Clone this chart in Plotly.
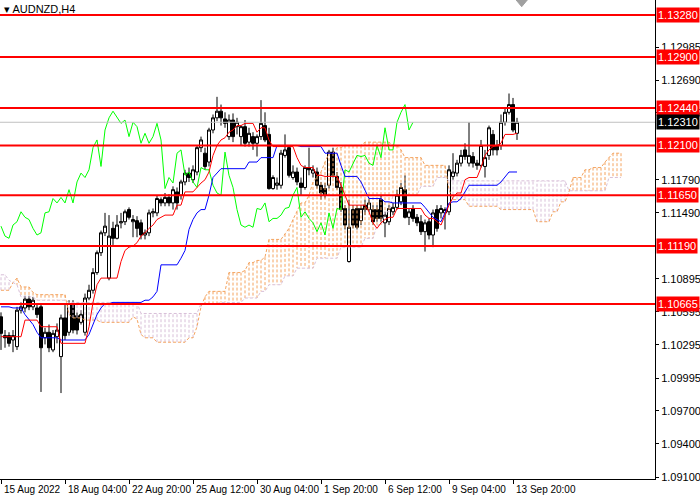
import plotly.graph_objects as go

# =========================================
# AUDNZD H4 candles (bar index 0 .. 129)
# =========================================
bar_open = [
    1.1055, 1.1038, 1.1038, 1.1034, 1.1028, 1.1061, 1.1063, 1.1071, 1.1064, 1.1063,
    1.1064, 1.1036, 1.1041, 1.1025, 1.1037, 1.1019, 1.1054, 1.1041, 1.1066, 1.1056,
    1.1050, 1.1041, 1.1072, 1.1079, 1.1095, 1.1113, 1.1131, 1.1090, 1.1135, 1.1126,
    1.1140, 1.1141, 1.1152, 1.1141, 1.1142, 1.1140, 1.1129, 1.1131, 1.1149, 1.1149,
    1.1161, 1.1158, 1.1163, 1.1158, 1.1168, 1.1165, 1.1177, 1.1185, 1.1179, 1.1186,
    1.1208, 1.1203, 1.1195, 1.1224, 1.1235, 1.1241, 1.1234, 1.1218, 1.1233, 1.1227,
    1.1218, 1.1227, 1.1213, 1.1218, 1.1212, 1.1218, 1.1228, 1.1220, 1.1171, 1.1174,
    1.1174, 1.1201, 1.1208, 1.1181, 1.1186, 1.1176, 1.1172, 1.1190, 1.1185, 1.1186,
    1.1174, 1.1171, 1.1174, 1.1204, 1.1182, 1.1172, 1.1153, 1.1105, 1.1152, 1.1153,
    1.1142, 1.1156, 1.1152, 1.1152, 1.1152, 1.1161, 1.1140, 1.1141, 1.1150, 1.1154,
    1.1159, 1.1170, 1.1145, 1.1153, 1.1145, 1.1141, 1.1132, 1.1141, 1.1129, 1.1152,
    1.1149, 1.1149, 1.1150, 1.1182, 1.1185, 1.1194, 1.1206, 1.1194, 1.1200, 1.1194,
    1.1192, 1.1191, 1.1201, 1.1220, 1.1210, 1.1210, 1.1231, 1.1240, 1.1247, 1.1221,
]
bar_high = [
    1.1059, 1.1043, 1.1041, 1.1043, 1.1064, 1.1068, 1.1074, 1.1074, 1.1073, 1.1067,
    1.1067, 1.1045, 1.1048, 1.1043, 1.1049, 1.1057, 1.1066, 1.1070, 1.1070, 1.1059,
    1.1061, 1.1076, 1.1084, 1.1099, 1.1115, 1.1133, 1.1149, 1.1147, 1.1141, 1.1147,
    1.1149, 1.1152, 1.1154, 1.1147, 1.1146, 1.1143, 1.1134, 1.1152, 1.1153, 1.1165,
    1.1163, 1.1167, 1.1166, 1.1173, 1.1172, 1.1179, 1.1188, 1.1190, 1.1192, 1.1210,
    1.1218, 1.1208, 1.1226, 1.1238, 1.1254, 1.1247, 1.1240, 1.1238, 1.1239, 1.1235,
    1.1228, 1.1233, 1.1226, 1.1222, 1.1220, 1.1251, 1.1240, 1.1226, 1.1183, 1.1181,
    1.1206, 1.1220, 1.1210, 1.1192, 1.1190, 1.1181, 1.1192, 1.1208, 1.1192, 1.1190,
    1.1177, 1.1176, 1.1206, 1.1208, 1.1186, 1.1177, 1.1156, 1.1161, 1.1156, 1.1156,
    1.1156, 1.1161, 1.1162, 1.1156, 1.1156, 1.1165, 1.1150, 1.1156, 1.1158, 1.1170,
    1.1176, 1.1183, 1.1153, 1.1156, 1.1148, 1.1147, 1.1143, 1.1144, 1.1152, 1.1156,
    1.1156, 1.1154, 1.1192, 1.1203, 1.1197, 1.1206, 1.1212, 1.1231, 1.1204, 1.1197,
    1.1215, 1.1206, 1.1228, 1.1224, 1.1215, 1.1238, 1.1244, 1.1257, 1.1253, 1.1235,
]
bar_low = [
    1.1025, 1.1027, 1.1028, 1.1023, 1.1025, 1.1058, 1.1059, 1.1061, 1.1061, 1.1054,
    1.0987, 1.1030, 1.1023, 1.1023, 1.1031, 1.0986, 1.1034, 1.1038, 1.1040, 1.1039,
    1.1048, 1.1038, 1.1070, 1.1076, 1.1093, 1.1110, 1.1128, 1.1088, 1.1120, 1.1125,
    1.1135, 1.1138, 1.1143, 1.1127, 1.1127, 1.1125, 1.1125, 1.1128, 1.1145, 1.1146,
    1.1155, 1.1155, 1.1155, 1.1152, 1.1152, 1.1161, 1.1174, 1.1177, 1.1176, 1.1183,
    1.1204, 1.1188, 1.1191, 1.1221, 1.1232, 1.1228, 1.1226, 1.1215, 1.1213, 1.1220,
    1.1210, 1.1209, 1.1209, 1.1206, 1.1200, 1.1215, 1.1213, 1.1170, 1.1170, 1.1170,
    1.1171, 1.1199, 1.1181, 1.1179, 1.1174, 1.1165, 1.1170, 1.1183, 1.1181, 1.1171,
    1.1161, 1.1162, 1.1171, 1.1181, 1.1170, 1.1150, 1.1134, 1.1104, 1.1135, 1.1134,
    1.1138, 1.1147, 1.1150, 1.1138, 1.1141, 1.1141, 1.1127, 1.1138, 1.1147, 1.1152,
    1.1156, 1.1144, 1.1138, 1.1141, 1.1137, 1.1129, 1.1114, 1.1125, 1.1118, 1.1132,
    1.1144, 1.1134, 1.1147, 1.1179, 1.1182, 1.1191, 1.1197, 1.1191, 1.1190, 1.1188,
    1.1190, 1.1181, 1.1197, 1.1201, 1.1201, 1.1206, 1.1228, 1.1238, 1.1222, 1.1215,
]
bar_close = [
    1.1040, 1.1036, 1.1031, 1.1038, 1.1061, 1.1064, 1.1071, 1.1064, 1.1070, 1.1057,
    1.1027, 1.1041, 1.1027, 1.1040, 1.1043, 1.1054, 1.1038, 1.1067, 1.1043, 1.1043,
    1.1057, 1.1072, 1.1079, 1.1095, 1.1113, 1.1131, 1.1137, 1.1128, 1.1126, 1.1138,
    1.1141, 1.1150, 1.1145, 1.1143, 1.1135, 1.1129, 1.1131, 1.1149, 1.1150, 1.1162,
    1.1158, 1.1163, 1.1158, 1.1170, 1.1158, 1.1177, 1.1185, 1.1181, 1.1188, 1.1208,
    1.1215, 1.1191, 1.1224, 1.1235, 1.1241, 1.1235, 1.1230, 1.1233, 1.1218, 1.1231,
    1.1227, 1.1212, 1.1221, 1.1212, 1.1218, 1.1230, 1.1215, 1.1171, 1.1181, 1.1176,
    1.1203, 1.1206, 1.1183, 1.1186, 1.1177, 1.1172, 1.1190, 1.1188, 1.1188, 1.1174,
    1.1167, 1.1165, 1.1204, 1.1183, 1.1172, 1.1152, 1.1138, 1.1136, 1.1138, 1.1136,
    1.1153, 1.1152, 1.1158, 1.1141, 1.1144, 1.1144, 1.1147, 1.1153, 1.1154, 1.1165,
    1.1172, 1.1145, 1.1150, 1.1144, 1.1140, 1.1132, 1.1140, 1.1129, 1.1149, 1.1135,
    1.1153, 1.1152, 1.1188, 1.1186, 1.1194, 1.1201, 1.1200, 1.1201, 1.1194, 1.1192,
    1.1210, 1.1199, 1.1226, 1.1206, 1.1206, 1.1231, 1.1240, 1.1247, 1.1224, 1.1231,
]

# =========================================
# Ichimoku lines
# =========================================
tenkan = [
    1.1037, 1.1037, 1.1037, 1.1037, 1.1037, 1.1037, 1.1052, 1.1052, 1.1052, 1.1052,
    1.1046, 1.1046, 1.1046, 1.1046, 1.1046, 1.1031, 1.1031, 1.1031, 1.1031, 1.1031,
    1.1031, 1.1031, 1.1046, 1.1068, 1.1084, 1.1090, 1.1090, 1.1090, 1.1090, 1.1090,
    1.1105, 1.1115, 1.1118, 1.1119, 1.1122, 1.1128, 1.1131, 1.1135, 1.1138, 1.1143,
    1.1145, 1.1147, 1.1147, 1.1147, 1.1156, 1.1156, 1.1168, 1.1168, 1.1168, 1.1172,
    1.1176, 1.1179, 1.1186, 1.1201, 1.1210, 1.1215, 1.1217, 1.1222, 1.1224, 1.1228,
    1.1228, 1.1230, 1.1230, 1.1230, 1.1222, 1.1226, 1.1226, 1.1215, 1.1209, 1.1209,
    1.1209, 1.1209, 1.1209, 1.1209, 1.1199, 1.1192, 1.1190, 1.1190, 1.1190, 1.1183,
    1.1183, 1.1182, 1.1182, 1.1182, 1.1182, 1.1174, 1.1165, 1.1156, 1.1156, 1.1156,
    1.1156, 1.1156, 1.1150, 1.1140, 1.1135, 1.1140, 1.1143, 1.1145, 1.1145, 1.1153,
    1.1153, 1.1153, 1.1153, 1.1153, 1.1153, 1.1153, 1.1147, 1.1144, 1.1144, 1.1141,
    1.1138, 1.1147, 1.1156, 1.1163, 1.1167, 1.1167, 1.1179, 1.1181, 1.1181, 1.1181,
    1.1190, 1.1201, 1.1206, 1.1209, 1.1210, 1.1212, 1.1220, 1.1220, 1.1220, 1.1221,
]
kijun = [
    1.1064, 1.1064, 1.1064, 1.1063, 1.1063, 1.1063, 1.1057, 1.1052, 1.1048, 1.1041,
    1.1036, 1.1036, 1.1036, 1.1036, 1.1036, 1.1034, 1.1034, 1.1034, 1.1034, 1.1034,
    1.1034, 1.1034, 1.1039, 1.1048, 1.1057, 1.1063, 1.1067, 1.1067, 1.1068, 1.1068,
    1.1068, 1.1068, 1.1068, 1.1068, 1.1068, 1.1068, 1.1070, 1.1070, 1.1073, 1.1078,
    1.1102, 1.1102, 1.1102, 1.1102, 1.1102, 1.1108, 1.1115, 1.1134, 1.1143, 1.1149,
    1.1152, 1.1152, 1.1165, 1.1181, 1.1185, 1.1189, 1.1189, 1.1189, 1.1189, 1.1189,
    1.1189, 1.1189, 1.1195, 1.1195, 1.1195, 1.1199, 1.1199, 1.1199, 1.1199, 1.1210,
    1.1210, 1.1210, 1.1210, 1.1210, 1.1210, 1.1209, 1.1209, 1.1209, 1.1209, 1.1209,
    1.1209, 1.1203, 1.1203, 1.1203, 1.1203, 1.1192, 1.1182, 1.1182, 1.1182, 1.1182,
    1.1177, 1.1170, 1.1162, 1.1162, 1.1162, 1.1162, 1.1159, 1.1159, 1.1158, 1.1158,
    1.1158, 1.1158, 1.1158, 1.1158, 1.1158, 1.1158, 1.1154, 1.1149, 1.1145, 1.1143,
    1.1141, 1.1149, 1.1158, 1.1159, 1.1159, 1.1162, 1.1168, 1.1174, 1.1174, 1.1174,
    1.1174, 1.1174, 1.1174, 1.1174, 1.1174, 1.1177, 1.1181, 1.1186, 1.1186, 1.1186,
]
# senkou spans run 26 bars past the last candle (index 0 .. 155)
span_a = [
    1.1079, 1.1079, 1.1079, 1.1086, 1.1090, 1.1082, 1.1082, 1.1082, 1.1077, 1.1075,
    1.1075, 1.1075, 1.1075, 1.1075, 1.1075, 1.1075, 1.1075, 1.1057, 1.1054, 1.1054,
    1.1054, 1.1052, 1.1052, 1.1052, 1.1052, 1.1050, 1.1050, 1.1050, 1.1050, 1.1050,
    1.1050, 1.1050, 1.1050, 1.1055, 1.1053, 1.1039, 1.1036, 1.1036, 1.1036, 1.1032,
    1.1032, 1.1032, 1.1032, 1.1032, 1.1032, 1.1032, 1.1032, 1.1036, 1.1036, 1.1046,
    1.1064, 1.1073, 1.1078, 1.1078, 1.1078, 1.1078, 1.1078, 1.1095, 1.1095, 1.1095,
    1.1095, 1.1097, 1.1104, 1.1104, 1.1106, 1.1106, 1.1109, 1.1125, 1.1125, 1.1125,
    1.1125, 1.1130, 1.1135, 1.1143, 1.1150, 1.1158, 1.1158, 1.1165, 1.1177, 1.1182,
    1.1186, 1.1195, 1.1203, 1.1203, 1.1208, 1.1208, 1.1210, 1.1210, 1.1210, 1.1210,
    1.1210, 1.1213, 1.1213, 1.1213, 1.1213, 1.1213, 1.1213, 1.1213, 1.1210, 1.1210,
    1.1206, 1.1199, 1.1199, 1.1199, 1.1199, 1.1199, 1.1192, 1.1192, 1.1192, 1.1192,
    1.1192, 1.1192, 1.1170, 1.1161, 1.1161, 1.1161, 1.1161, 1.1155, 1.1155, 1.1155,
    1.1155, 1.1155, 1.1155, 1.1155, 1.1155, 1.1152, 1.1152, 1.1152, 1.1152, 1.1152,
    1.1152, 1.1152, 1.1152, 1.1152, 1.1141, 1.1141, 1.1141, 1.1141, 1.1150, 1.1150,
    1.1159, 1.1159, 1.1168, 1.1181, 1.1181, 1.1181, 1.1188, 1.1188, 1.1190, 1.1190,
    1.1190, 1.1195, 1.1199, 1.1203, 1.1203, 1.1203,
]
span_b = [
    1.1093, 1.1093, 1.1088, 1.1086, 1.1084, 1.1073, 1.1073, 1.1073, 1.1073, 1.1070,
    1.1070, 1.1070, 1.1070, 1.1070, 1.1070, 1.1070, 1.1070, 1.1068, 1.1068, 1.1068,
    1.1068, 1.1068, 1.1068, 1.1068, 1.1068, 1.1068, 1.1068, 1.1068, 1.1068, 1.1068,
    1.1068, 1.1068, 1.1068, 1.1068, 1.1068, 1.1058, 1.1058, 1.1058, 1.1058, 1.1058,
    1.1058, 1.1058, 1.1058, 1.1058, 1.1058, 1.1058, 1.1058, 1.1058, 1.1058, 1.1058,
    1.1067, 1.1067, 1.1067, 1.1067, 1.1067, 1.1068, 1.1068, 1.1068, 1.1068, 1.1068,
    1.1068, 1.1072, 1.1072, 1.1072, 1.1072, 1.1078, 1.1078, 1.1084, 1.1084, 1.1084,
    1.1084, 1.1092, 1.1092, 1.1092, 1.1099, 1.1099, 1.1099, 1.1099, 1.1099, 1.1108,
    1.1108, 1.1108, 1.1108, 1.1108, 1.1108, 1.1118, 1.1118, 1.1118, 1.1118, 1.1118,
    1.1118, 1.1126, 1.1126, 1.1126, 1.1138, 1.1138, 1.1150, 1.1150, 1.1165, 1.1165,
    1.1165, 1.1165, 1.1165, 1.1165, 1.1165, 1.1173, 1.1173, 1.1173, 1.1173, 1.1181,
    1.1181, 1.1181, 1.1178, 1.1178, 1.1178, 1.1178, 1.1178, 1.1178, 1.1178, 1.1178,
    1.1178, 1.1178, 1.1178, 1.1178, 1.1178, 1.1178, 1.1178, 1.1178, 1.1178, 1.1178,
    1.1178, 1.1178, 1.1178, 1.1178, 1.1178, 1.1178, 1.1178, 1.1178, 1.1178, 1.1178,
    1.1178, 1.1178, 1.1169, 1.1169, 1.1169, 1.1169, 1.1169, 1.1169, 1.1169, 1.1169,
    1.1169, 1.1169, 1.1181, 1.1181, 1.1181, 1.1181,
]
chikou_shift = 26

# =========================================
# Levels, axis labels
# =========================================
level_prices = [1.1328, 1.1290, 1.1244, 1.1210, 1.1165, 1.1119, 1.10665]
level_labels = ["1.13280", "1.12900", "1.12440", "1.12100", "1.11650", "1.11190", "1.10665"]
bid_price = 1.1231
bid_label = "1.12310"

price_ticks = [1.09100, 1.09400, 1.09700, 1.09995, 1.10295, 1.10595, 1.10895,
               1.11490, 1.11790, 1.12395, 1.12690, 1.12985]
price_tick_labels = ["1.09100", "1.09400", "1.09700", "1.09995", "1.10295", "1.10595", "1.10895",
                     "1.11490", "1.11790", "1.12395", "1.12690", "1.12985"]

date_tick_bars = [0, 16, 32, 48, 64, 80, 96, 112, 128]
date_tick_labels = ["15 Aug 2022", "18 Aug 04:00", "22 Aug 20:00", "25 Aug 12:00", "30 Aug 04:00",
                    "1 Sep 20:00", "6 Sep 12:00", "9 Sep 04:00", "13 Sep 20:00"]

FONT = "Liberation Sans"
bars = list(range(len(bar_close)))

fig = go.Figure()

# candles
fig.add_trace(go.Candlestick(
    x=bars, open=bar_open, high=bar_high, low=bar_low, close=bar_close,
    increasing=dict(line=dict(color="black", width=1), fillcolor="white"),
    decreasing=dict(line=dict(color="black", width=1), fillcolor="black"),
    whiskerwidth=0, showlegend=False, hoverinfo="skip"
))

# cloud: one dotted vertical stroke per bar between span A and span B
up_x, up_y, dn_x, dn_y = [], [], [], []
for i, (a, b) in enumerate(zip(span_a, span_b)):
    if a >= b:
        up_x += [i, i, None]
        up_y += [a, b, None]
    else:
        dn_x += [i, i, None]
        dn_y += [a, b, None]

fig.add_trace(go.Scatter(x=up_x, y=up_y, mode="lines", showlegend=False, hoverinfo="skip",
                         line=dict(color="#F4A460", width=1, dash="3px,2px")))
fig.add_trace(go.Scatter(x=dn_x, y=dn_y, mode="lines", showlegend=False, hoverinfo="skip",
                         line=dict(color="#D8BFD8", width=1, dash="3px,2px")))

span_x = list(range(len(span_a)))
fig.add_trace(go.Scatter(x=span_x, y=span_a, mode="lines", showlegend=False, hoverinfo="skip",
                         line=dict(color="#F4A460", width=1, dash="3px,2px")))
fig.add_trace(go.Scatter(x=span_x, y=span_b, mode="lines", showlegend=False, hoverinfo="skip",
                         line=dict(color="#D8BFD8", width=1, dash="3px,2px")))

# chikou span: closes drawn 26 bars back
fig.add_trace(go.Scatter(x=bars[:-chikou_shift], y=bar_close[chikou_shift:], mode="lines",
                         showlegend=False, hoverinfo="skip",
                         line=dict(color="#00FF00", width=1)))

# tenkan / kijun
fig.add_trace(go.Scatter(x=bars, y=kijun, mode="lines", showlegend=False, hoverinfo="skip",
                         line=dict(color="#0000FF", width=1)))
fig.add_trace(go.Scatter(x=bars, y=tenkan, mode="lines", showlegend=False, hoverinfo="skip",
                         line=dict(color="#FF0000", width=1)))

# current bid line
fig.add_shape(type="line", xref="paper", x0=0, x1=1, yref="y", y0=bid_price, y1=bid_price,
              line=dict(color="#C0C0C0", width=1))

# horizontal support / resistance levels
for p in level_prices:
    fig.add_shape(type="line", xref="paper", x0=0, x1=1, yref="y", y0=p, y1=p,
                  line=dict(color="#FF0000", width=2))

# price labels on the right scale
for p, txt in zip(level_prices, level_labels):
    fig.add_annotation(x=1, xref="paper", xanchor="left", xshift=1, y=p, yref="y",
                       text=txt, showarrow=False, bgcolor="#FF0000", borderpad=1,
                       font=dict(family=FONT, size=11, color="white"))
fig.add_annotation(x=1, xref="paper", xanchor="left", xshift=1, y=bid_price, yref="y",
                   text=bid_label, showarrow=False, bgcolor="#000000", borderpad=1,
                   font=dict(family=FONT, size=11, color="white"))

# time labels, left aligned to their tick
for b, txt in zip(date_tick_bars, date_tick_labels):
    fig.add_annotation(x=b, xref="x", xanchor="left", xshift=1, y=0, yref="paper",
                       yanchor="top", yshift=-3, text=txt, showarrow=False,
                       font=dict(family=FONT, size=10, color="black"))

# symbol caption
fig.add_annotation(x=0, xref="paper", xanchor="left", xshift=2, y=1, yref="paper",
                   yanchor="top", yshift=-1, text="\u25BE AUDNZD,H4", showarrow=False,
                   font=dict(family=FONT, size=11, color="#000000"))

# chart shift marker
fig.add_shape(type="path", xref="paper", yref="paper",
              path="M 0.788 1 L 0.805 1 L 0.7965 0.986 Z",
              fillcolor="#A0A0A0", line=dict(color="#A0A0A0", width=1))

fig.update_layout(
    width=700, height=500,
    margin=dict(l=0, r=45, t=0, b=21),
    paper_bgcolor="white", plot_bgcolor="white",
    showlegend=False,
    boxgap=0.25, boxgroupgap=0,
    xaxis=dict(
        range=[-0.25, 163.5], rangeslider=dict(visible=False),
        showgrid=False, zeroline=False,
        showline=True, linecolor="black", linewidth=1,
        tickvals=date_tick_bars, showticklabels=False,
        ticks="outside", ticklen=4, tickcolor="black"
    ),
    yaxis=dict(
        side="right", range=[1.090825, 1.13416],
        showgrid=False, zeroline=False,
        showline=True, linecolor="black", linewidth=1,
        tickvals=price_ticks, ticktext=price_tick_labels,
        ticks="outside", ticklen=3, tickcolor="black",
        tickfont=dict(family=FONT, size=11, color="black")
    )
)

# the page's default body margin would shift the chart off its 700x500 frame
fig.write_html("out.html", config={"displayModeBar": False},
               post_script="document.body.style.margin='0px';")
